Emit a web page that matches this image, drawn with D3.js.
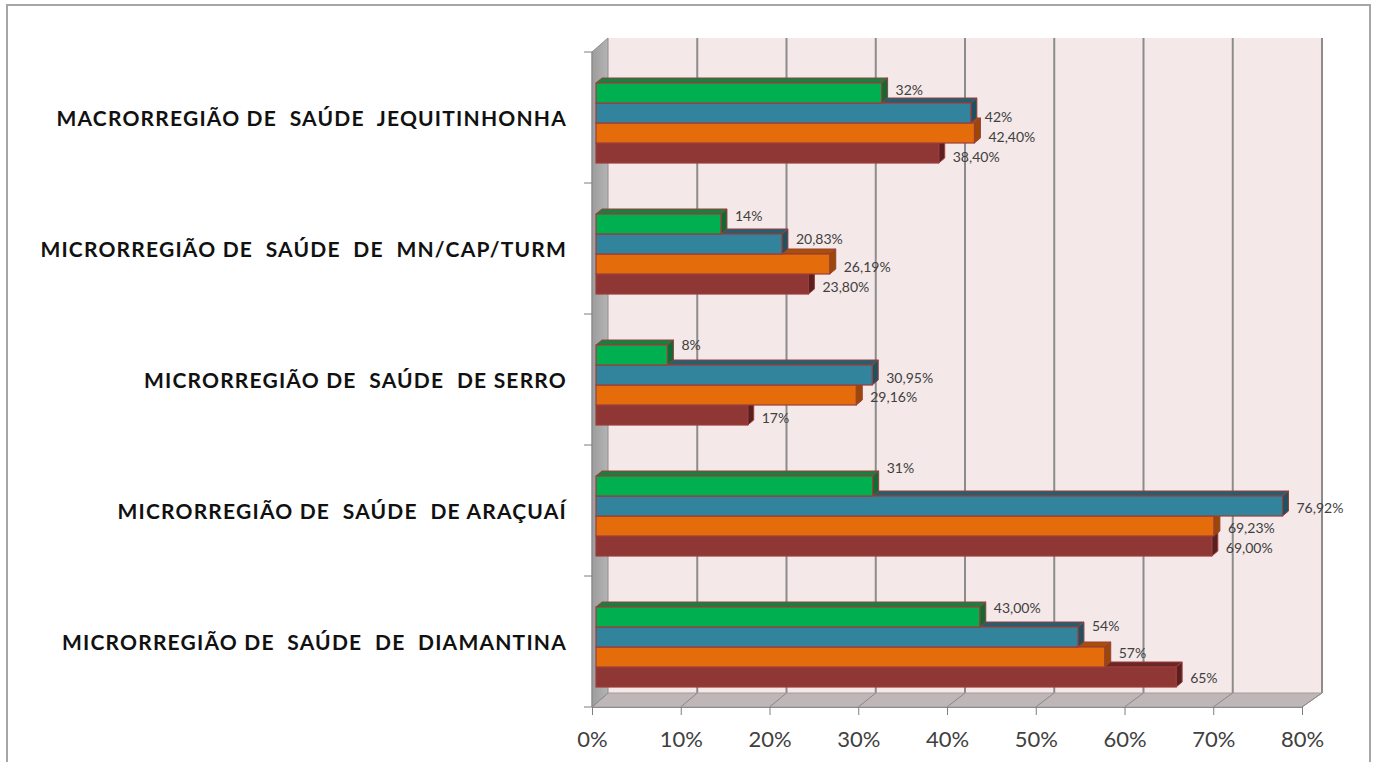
<!DOCTYPE html>
<html>
<head>
<meta charset="utf-8">
<title>Microrregiões de saúde</title>
<script src="https://cdn.jsdelivr.net/npm/d3@7"></script>
<style>
    body { margin: 0; background: #ffffff; }
    svg { display: block; }
</style>
</head>
<body>
<script>

// categories, top to bottom
var categories = [
    "MACRORREGIÃO DE  SAÚDE  JEQUITINHONHA",
    "MICRORREGIÃO DE  SAÚDE  DE  MN/CAP/TURM",
    "MICRORREGIÃO DE  SAÚDE  DE SERRO",
    "MICRORREGIÃO DE  SAÚDE  DE ARAÇUAÍ",
    "MICRORREGIÃO DE  SAÚDE  DE  DIAMANTINA"
];

// series, top bar of each group first
var series = ["green", "blue", "orange", "red"];

var greenValues = [32, 14, 8, 31, 43];
var blueValues = [42, 20.83, 30.95, 76.92, 54];
var orangeValues = [42.4, 26.19, 29.16, 69.23, 57];
var redValues = [38.4, 23.8, 17, 69, 65];

var greenLabels = ["32%", "14%", "8%", "31%", "43,00%"];
var blueLabels = ["42%", "20,83%", "30,95%", "76,92%", "54%"];
var orangeLabels = ["42,40%", "26,19%", "29,16%", "69,23%", "57%"];
var redLabels = ["38,40%", "23,80%", "17%", "69,00%", "65%"];

var xTicks = [0, 10, 20, 30, 40, 50, 60, 70, 80];

window.onload = function(){

    var width = 1377, height = 762;

    // colours per series: front, top face, side face
    var colors = {
        green:  ["#00b050", "#17803f", "#0f6b33"],
        blue:   ["#31849b", "#255f6f", "#1f5260"],
        orange: ["#e46c0a", "#a85006", "#9a4806"],
        red:    ["#8f3735", "#6a2726", "#5a2020"]
    };
    var values = {green: greenValues, blue: blueValues, orange: orangeValues, red: redValues};
    var labels = {green: greenLabels, blue: blueLabels, orange: orangeLabels, red: redLabels};

    // vertical nudge of each data label from its bar centre (excel moved them around)
    var labelNudge = {
        green:  [-3, -8, -10, -18, -9],
        blue:   [4, -5, 3, 2, -11],
        orange: [4, 3, 2, 2, -4],
        red:    [4, 3, 3, 2, 1]
    };

    var svg = d3.select("body")
        .append("svg")
        .attr("width", width)
        .attr("height", height);

    // outer frame
    svg.append("rect")
        .attr("x", 7).attr("y", 5)
        .attr("width", 1363).attr("height", 800)
        .attr("fill", "#ffffff")
        .attr("stroke", "#a6a6a6")
        .attr("stroke-width", 2);

    // front and back planes of the 3d box
    var yTop = 52, yBottom = 707, depthY = -14;
    var xFront = d3.scaleLinear().domain([0, 80]).range([592, 1302]);
    var xBack = d3.scaleLinear().domain([0, 80]).range([608, 1322]);
    // bars sit a bit into the box
    var xBar = d3.scaleLinear().domain([0, 80]).range([596, 1310]);

    var yBand = d3.scaleBand().domain(categories).range([yTop, yBottom]);
    var yInner = d3.scaleBand().domain(series).range([31, 111]);

    // back wall
    svg.append("rect")
        .attr("x", xBack(0)).attr("y", yTop + depthY)
        .attr("width", xBack(80) - xBack(0))
        .attr("height", yBottom - yTop)
        .attr("fill", "#f4e8e8");

    // gridlines on the back wall
    svg.selectAll(".grid")
        .data(xTicks.slice(1))
        .enter()
        .append("line")
        .attr("class", "grid")
        .attr("x1", function(d) { return xBack(d); })
        .attr("x2", function(d) { return xBack(d); })
        .attr("y1", yTop + depthY)
        .attr("y2", yBottom + depthY)
        .attr("stroke", "#8c8c8c")
        .attr("stroke-width", 2);

    // floor
    svg.append("polygon")
        .attr("points", [
            [xFront(0), yBottom], [xFront(80), yBottom],
            [xBack(80), yBottom + depthY], [xBack(0), yBottom + depthY]
        ].join(" "))
        .attr("fill", "#bfb7b7")
        .attr("stroke", "#a39c9c")
        .attr("stroke-width", 1);

    svg.selectAll(".floorline")
        .data(xTicks)
        .enter()
        .append("line")
        .attr("class", "floorline")
        .attr("x1", function(d) { return xFront(d); })
        .attr("x2", function(d) { return xBack(d); })
        .attr("y1", yBottom)
        .attr("y2", yBottom + depthY)
        .attr("stroke", "#8c8686")
        .attr("stroke-width", 1);

    // left side wall
    var wallGrad = svg.append("defs").append("linearGradient")
        .attr("id", "wallGrad")
        .attr("x1", "0").attr("x2", "1").attr("y1", "0").attr("y2", "0");
    wallGrad.append("stop").attr("offset", "0").attr("stop-color", "#9c9c9c");
    wallGrad.append("stop").attr("offset", "1").attr("stop-color", "#b4b4b4");

    svg.append("polygon")
        .attr("points", [
            [xFront(0), yTop], [xBack(0), yTop + depthY],
            [xBack(0), yBottom + depthY], [xFront(0), yBottom]
        ].join(" "))
        .attr("fill", "url(#wallGrad)")
        .attr("stroke", "#8c8c8c")
        .attr("stroke-width", 1);

    // category axis line and ticks
    svg.append("line")
        .attr("x1", xFront(0)).attr("x2", xFront(0))
        .attr("y1", yTop).attr("y2", yBottom)
        .attr("stroke", "#8c8c8c");

    var bandEdges = categories.map(function(c) { return yBand(c); }).concat([yBottom]);
    svg.selectAll(".ctick")
        .data(bandEdges)
        .enter()
        .append("line")
        .attr("class", "ctick")
        .attr("x1", xFront(0) - 8).attr("x2", xFront(0))
        .attr("y1", function(d) { return d; })
        .attr("y2", function(d) { return d; })
        .attr("stroke", "#7f7f7f")
        .attr("stroke-width", 1);

    // x axis
    var xAxis = svg.append("g")
        .attr("class", "xAxis")
        .attr("transform", "translate(0," + yBottom + ")")
        .call(d3.axisBottom(xFront)
            .tickValues(xTicks)
            .tickSize(8)
            .tickFormat(function(d) { return d + "%"; }));
    xAxis.select(".domain").attr("stroke", "#8c8c8c");
    xAxis.selectAll(".tick line").attr("stroke", "#7f7f7f");
    xAxis.selectAll(".tick text")
        .attr("y", 24)
        .attr("dy", "0.71em")
        .attr("font-family", "Lato, sans-serif")
        .attr("font-size", "22px")
        .attr("fill", "#404040");

    // bars, drawn bottom bar first so upper bars cover the top faces
    var bdx = 6, bdy = -5;
    var drawOrder = series.slice().reverse();

    categories.forEach(function(cat, ci) {
        drawOrder.forEach(function(s) {
            var v = values[s][ci];
            var x0 = xBar(0), x1 = xBar(v);
            var y = yBand(cat) + yInner(s);
            var h = yInner.bandwidth();
            var g = svg.append("g").attr("class", "bar");

            g.append("polygon")
                .attr("points", [[x0, y], [x1, y], [x1 + bdx, y + bdy], [x0 + bdx, y + bdy]].join(" "))
                .attr("fill", colors[s][1])
                .attr("stroke", "#9b3d3b").attr("stroke-width", 1);

            g.append("polygon")
                .attr("points", [[x1, y], [x1 + bdx, y + bdy], [x1 + bdx, y + h + bdy], [x1, y + h]].join(" "))
                .attr("fill", colors[s][2])
                .attr("stroke", "#9b3d3b").attr("stroke-width", 1);

            g.append("rect")
                .attr("x", x0).attr("y", y)
                .attr("width", x1 - x0).attr("height", h)
                .attr("fill", colors[s][0])
                .attr("stroke", "#9b3d3b").attr("stroke-width", 1.2);
        });
    });

    // data labels
    categories.forEach(function(cat, ci) {
        series.forEach(function(s) {
            var v = values[s][ci];
            svg.append("text")
                .attr("class", "label")
                .attr("x", xBar(v) + bdx + 8)
                .attr("y", yBand(cat) + yInner(s) + yInner.bandwidth() / 2 + labelNudge[s][ci])
                .attr("dy", "0.35em")
                .attr("font-family", "Lato, sans-serif")
                .attr("font-size", "14px")
                .attr("fill", "#404040")
                .text(labels[s][ci]);
        });
    });

    // category labels
    svg.selectAll(".catlabel")
        .data(categories)
        .enter()
        .append("text")
        .attr("class", "catlabel")
        .attr("x", 567)
        .attr("y", function(d) { return yBand(d) + yBand.bandwidth() / 2 + 8; })
        .attr("text-anchor", "end")
        .style("white-space", "pre")
        .style("letter-spacing", "1.2px")
        .attr("font-family", "Lato, sans-serif")
        .attr("font-weight", "bold")
        .attr("font-size", "21px")
        .attr("fill", "#111111")
        .text(function(d) { return d; });
};
</script>
</body>
</html>
